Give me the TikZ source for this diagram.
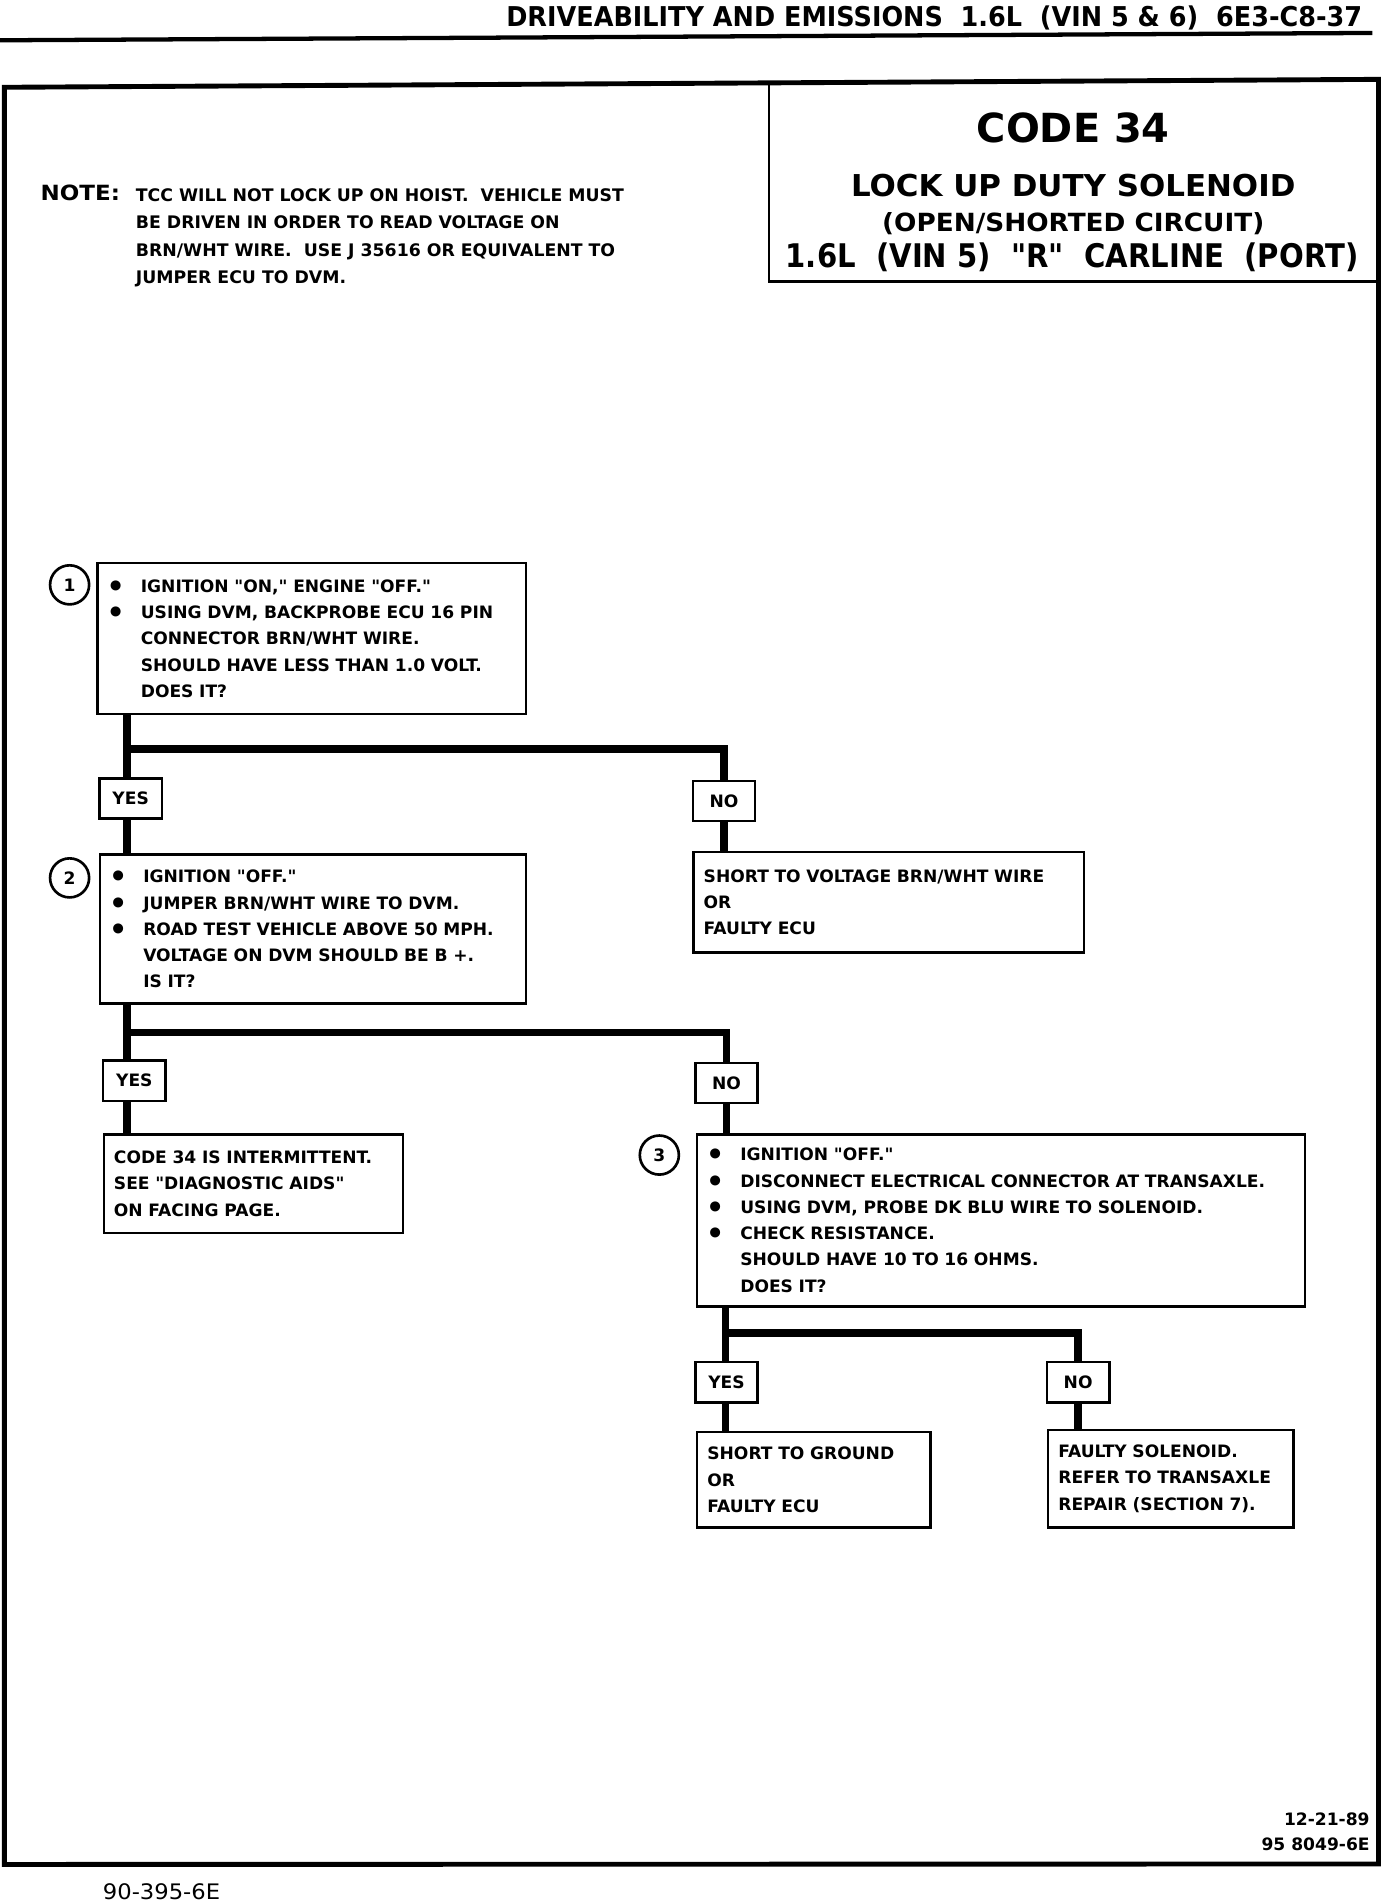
\documentclass[tikz,border=0pt]{standalone}
\usepackage{fontspec}
\usepackage{graphicx}
\setmainfont{DejaVu Sans}[Ligatures=TeXOff]
\newlength\chartunit
\setlength\chartunit{0.6pt}
% stretch a line of text to a given width (in picture units)
\newcommand\fitw[2]{\resizebox{#1\chartunit}{\height}{#2}}
\newcommand\bul{\makebox[16.2pt][l]{\hspace{-0.6pt}\raisebox{-1.9pt}{\fontsize{14}{14}\selectfont\textbullet}}}
\newcommand\nob{\hspace*{16.2pt}}
\newcommand\flowbox[6]{
  \pgfmathsetlengthmacro\boxw{#4*0.6pt-10pt}
  \pgfmathsetlengthmacro\boxh{#5*0.6pt}
  \node[box, text width=\boxw, minimum height=\boxh] (#1) at (#2,#3) {#6};
}
\tikzset{
  box/.style={draw, line width=1.2pt, anchor=north west, inner xsep=5pt, inner ysep=0pt,
    align=left, font=\fontsize{8.4}{12.9}\selectfont\bfseries},
  tag/.style={draw, line width=1.2pt, minimum width=30.6pt, minimum height=19.8pt,
    inner sep=0pt, font=\fontsize{8.4}{10}\selectfont\bfseries},
  num/.style={circle, draw, line width=1.3pt, minimum size=19.2pt, inner sep=0pt,
    font=\fontsize{8.4}{10}\selectfont\bfseries},
  link/.style={line width=3.6pt},
}
\begin{document}
\begin{tikzpicture}[x=0.6pt, y=-0.6pt]
\useasboundingbox (0,0) rectangle (1140,1559.4);
\fill[white] (0,0) rectangle (1140,1559.4);

% page head
\node[anchor=base east, inner sep=0pt, font=\fontsize{13.4}{14}\selectfont\bfseries] (head) at (1116,21.8)
  {\fitw{701}{DRIVEABILITY AND EMISSIONS\ \ 1.6L\ \ (VIN 5 \& 6)\ \ 6E3-C8-37}};
\draw[line width=2.1pt] (0,33) -- (1124,27);

% frame and title block
\draw[line width=2.4pt] (3.6,71.5) -- (1129,65) -- (1129,1526.6) -- (3.6,1527) -- cycle;
\draw[line width=1.2pt] (629.7,67.5) -- (629.7,230.7) -- (1129,230.7);
\node[anchor=base, inner sep=0pt, font=\fontsize{19.7}{20}\selectfont\bfseries] (code) at (879,117) {\fitw{158}{CODE 34}};
\node[anchor=base, inner sep=0pt, font=\fontsize{14.8}{15}\selectfont\bfseries] (sol) at (879,161) {\fitw{364}{LOCK UP DUTY SOLENOID}};
\node[anchor=base, inner sep=0pt, font=\fontsize{12.3}{13}\selectfont\bfseries] (ckt) at (879,190) {\fitw{313}{(OPEN/SHORTED CIRCUIT)}};
\node[anchor=base, inner sep=0pt, font=\fontsize{16}{17}\selectfont\bfseries] (car) at (878,219)
  {\fitw{469}{1.6L\ \ (VIN 5)\ \ "R"\ \ CARLINE\ \ (PORT)}};

% note
\node[anchor=base west, inner sep=0pt, font=\fontsize{10.3}{12}\selectfont\bfseries] (notelbl) at (33,164) {\fitw{65}{NOTE:}};
\node[anchor=north west, inner sep=0pt, align=left, font=\fontsize{8.5}{13.4}\selectfont\bfseries] (note) at (111,154.2)
  {TCC WILL NOT LOCK UP ON HOIST.\ \ VEHICLE MUST\\
   BE DRIVEN IN ORDER TO READ VOLTAGE ON\\
   BRN/WHT WIRE.\ \ USE J 35616 OR EQUIVALENT TO\\
   JUMPER ECU TO DVM.};

% step 1
\node[num] (n1) at (57,479) {1};
\flowbox{chk1}{79}{460}{351}{124}{\bul IGNITION "ON," ENGINE "OFF."\\
  \bul USING DVM, BACKPROBE ECU 16 PIN\\
  \nob CONNECTOR BRN/WHT WIRE.\\
  \nob SHOULD HAVE LESS THAN 1.0 VOLT.\\
  \nob DOES IT?}
\node[tag] (yes1) at (107,654) {YES};
\node[tag] (no1) at (593,656) {NO};
\flowbox{shv}{567}{697}{320}{82}{SHORT TO VOLTAGE BRN/WHT WIRE\\ OR\\ FAULTY ECU}

% step 2
\node[num] (n2) at (57,719) {2};
\flowbox{chk2}{81}{699}{349}{122}{\bul IGNITION "OFF."\\
  \bul JUMPER BRN/WHT WIRE TO DVM.\\
  \bul ROAD TEST VEHICLE ABOVE 50 MPH.\\
  \nob VOLTAGE ON DVM SHOULD BE B +.\\
  \nob IS IT?}
\node[tag] (yes2) at (110,885) {YES};
\node[tag] (no2) at (595,887) {NO};
\flowbox{intm}{84}{928}{245}{81}{CODE 34 IS INTERMITTENT.\\ SEE "DIAGNOSTIC AIDS"\\ ON FACING PAGE.}

% step 3
\node[num] (n3) at (540,946) {3};
\flowbox{chk3}{570}{928}{498}{141}{\bul IGNITION "OFF."\\
  \bul DISCONNECT ELECTRICAL CONNECTOR AT TRANSAXLE.\\
  \bul USING DVM, PROBE DK BLU WIRE TO SOLENOID.\\
  \bul CHECK RESISTANCE.\\
  \nob SHOULD HAVE 10 TO 16 OHMS.\\
  \nob DOES IT?}
\node[tag] (yes3) at (595,1132) {YES};
\node[tag] (no3) at (883,1132) {NO};
\flowbox{shg}{570}{1172}{191}{78}{SHORT TO GROUND\\ OR\\ FAULTY ECU}
\flowbox{fsol}{857.5}{1170}{201}{80}{FAULTY SOLENOID.\\ REFER TO TRANSAXLE\\ REPAIR (SECTION 7).}

% branches
\coordinate (j1) at (104,613.5);
\draw[link] (chk1.south -| j1) -- (j1) -| (no1.north);
\draw[link] (j1) -- (j1 |- yes1.north);
\draw[link] (j1 |- yes1.south) -- (j1 |- chk2.north);
\draw[link] (no1.south) -- (no1.south |- shv.north);

\coordinate (j2) at (104,845.6);
\draw[link] (chk2.south -| j2) -- (j2) -| (no2.north);
\draw[link] (j2) -- (j2 |- yes2.north);
\draw[link] (j2 |- yes2.south) -- (j2 |- intm.north);
\draw[link] (no2.south) -- (no2.south |- chk3.north);

\coordinate (j3) at (594,1091.7);
\draw[link] (chk3.south -| j3) -- (j3) -| (no3.north);
\draw[link] (j3) -- (j3 |- yes3.north);
\draw[link] (j3 |- yes3.south) -- (j3 |- shg.north);
\draw[link] (no3.south) -- (no3.south |- fsol.north);

% foot
\node[anchor=north east, inner sep=0pt, align=right, font=\fontsize{8.4}{12.4}\selectfont\bfseries] (date) at (1122,1484)
  {12-21-89\\ 95 8049-6E};
\node[anchor=base west, inner sep=0pt, font=\fontsize{10.5}{12}\selectfont] (pgno) at (84,1556) {\fitw{96}{90-395-6E}};
\end{tikzpicture}
\end{document}
